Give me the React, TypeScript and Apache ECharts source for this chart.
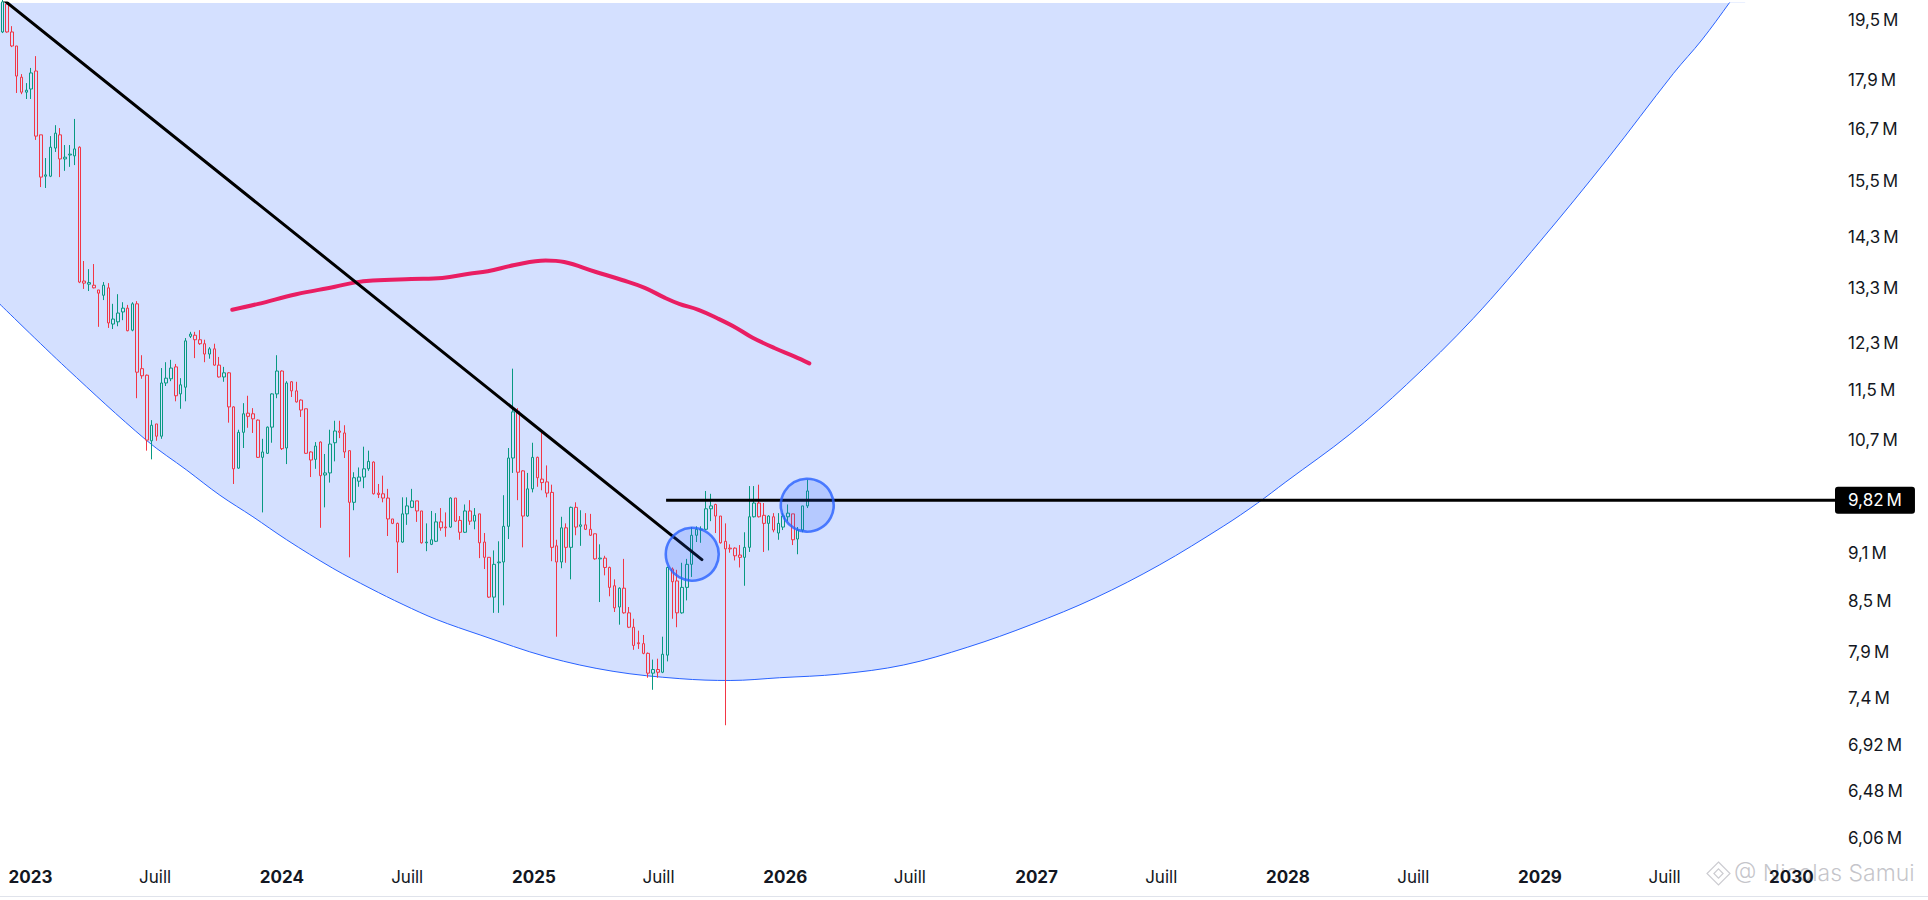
import React, { useEffect, useRef } from "react";
import * as echarts from "echarts";

const DAY = 86400000;

// ---- weekly candles (values in millions) ----
const FIRST_WEEK = "2022-11-21";
const OPEN = [
  19.17, 19.95, 19.17, 18.79, 17.97, 17.59, 17.67, 18.13, 16.55, 15.6,
  15.6, 16.24, 16.55, 15.99, 16.08, 16.06, 16.26, 13.43, 13.37, 13.35,
  13.26, 13.16, 13.3, 12.63, 12.67, 12.85, 12.92, 12.52, 13.0, 11.85,
  11.74, 10.69, 10.95, 10.76, 11.61, 11.68, 11.88, 11.43, 11.54, 12.41,
  12.43, 12.35, 12.28, 12.1, 12.19, 11.91, 11.71, 11.78, 11.22, 10.28,
  10.82, 11.12, 11.11, 11.01, 10.44, 10.5, 10.9, 11.43, 11.81, 10.58,
  11.63, 11.48, 11.33, 11.19, 10.52, 10.41, 10.67, 10.18, 10.21, 10.66,
  10.84, 10.81, 10.54, 9.79, 10.09, 10.15, 10.27, 10.37, 9.92, 9.91,
  9.85, 9.56, 9.5, 9.25, 9.63, 9.72, 9.81, 9.67, 9.24, 9.22,
  9.26, 9.52, 9.45, 9.45, 9.85, 9.54, 9.38, 9.67, 9.53, 9.63,
  9.25, 9.05, 8.55, 8.98, 8.99, 9.46, 10.43, 11.15, 10.24, 9.6,
  9.98, 10.44, 10.12, 10.08, 9.93, 9.2, 8.99, 9.44, 9.18, 9.72,
  9.46, 9.48, 9.42, 9.36, 9.03, 9.04, 8.92, 8.69, 8.43, 8.66,
  8.36, 8.19, 8.01, 8.0, 7.89, 7.67, 7.71, 7.68, 7.87, 8.9,
  8.75, 8.36, 8.67, 8.96, 9.34, 9.41, 9.42, 9.7, 9.76, 9.6,
  9.26, 9.17, 9.17, 9.08, 9.05, 9.18, 9.59, 9.78, 9.61, 9.5,
  9.59, 9.37, 9.45, 9.59, 9.63, 9.29, 9.41, 9.74,
];
const CLOSE = [
  20.01, 19.17, 18.79, 18.0, 17.59, 17.64, 18.08, 16.52, 15.58, 15.63,
  16.26, 16.59, 15.99, 16.03, 16.1, 16.22, 13.41, 13.39, 13.4, 13.3,
  13.2, 13.35, 12.65, 12.72, 12.83, 12.92, 12.51, 13.0, 11.79, 11.73,
  10.7, 10.93, 10.76, 11.61, 11.69, 11.86, 11.4, 11.58, 12.33, 12.45,
  12.35, 12.28, 12.1, 12.19, 11.91, 11.71, 11.78, 11.22, 10.27, 10.82,
  11.11, 11.07, 11.03, 10.44, 10.52, 10.9, 11.43, 11.81, 10.57, 11.61,
  11.48, 11.3, 11.17, 10.5, 10.4, 10.61, 10.17, 10.21, 10.64, 10.84,
  10.82, 10.52, 9.79, 10.14, 10.15, 10.27, 10.38, 9.91, 9.9, 9.85,
  9.56, 9.5, 9.25, 9.63, 9.74, 9.81, 9.67, 9.24, 9.25, 9.28,
  9.52, 9.44, 9.44, 9.85, 9.53, 9.38, 9.67, 9.53, 9.61, 9.24,
  9.05, 8.55, 8.96, 8.99, 9.46, 10.43, 11.14, 10.22, 9.6, 9.98,
  10.44, 10.14, 10.07, 9.92, 9.18, 8.99, 9.44, 9.18, 9.72, 9.45,
  9.48, 9.42, 9.34, 9.03, 9.04, 8.92, 8.67, 8.42, 8.66, 8.36,
  8.19, 7.98, 8.0, 7.89, 7.67, 7.71, 7.68, 7.88, 8.92, 8.74,
  8.36, 8.67, 8.96, 9.34, 9.42, 9.42, 9.7, 9.74, 9.6, 9.24,
  9.16, 9.16, 9.07, 9.05, 9.18, 9.59, 9.78, 9.59, 9.5, 9.6,
  9.41, 9.5, 9.6, 9.64, 9.28, 9.41, 9.74, 9.95,
];
const LOW = [
  19.14, 19.15, 18.76, 17.57, 17.54, 17.42, 17.42, 16.43, 15.36, 15.34,
  15.58, 16.15, 15.58, 15.72, 15.81, 15.85, 13.39, 13.28, 13.24, 13.29,
  12.58, 13.07, 12.56, 12.54, 12.59, 12.7, 12.5, 12.5, 11.36, 11.68,
  10.54, 10.41, 10.69, 10.72, 11.56, 11.64, 11.31, 11.19, 11.31, 12.38,
  12.03, 12.26, 11.96, 12.02, 11.9, 11.7, 11.63, 10.97, 10.05, 10.27,
  10.58, 10.89, 10.81, 10.43, 9.65, 10.49, 10.66, 11.36, 10.55, 10.34,
  11.38, 11.29, 11.06, 10.49, 10.15, 10.27, 9.44, 9.72, 10.07, 10.38,
  10.73, 10.43, 9.05, 9.68, 10.01, 9.99, 10.24, 9.9, 9.85, 9.79,
  9.33, 9.49, 8.85, 9.24, 9.48, 9.71, 9.52, 9.23, 9.13, 9.21,
  9.25, 9.4, 9.32, 9.44, 9.52, 9.28, 9.37, 9.48, 9.42, 9.04,
  8.9, 8.54, 8.36, 8.36, 8.45, 9.29, 10.21, 9.82, 9.18, 9.59,
  9.93, 10.01, 9.96, 9.86, 9.0, 8.08, 8.91, 8.98, 8.77, 9.34,
  9.2, 9.41, 9.33, 9.02, 8.49, 8.82, 8.56, 8.37, 8.22, 8.35,
  8.18, 7.93, 7.94, 7.88, 7.62, 7.49, 7.62, 7.67, 7.8, 8.29,
  8.19, 8.35, 8.51, 8.8, 9.25, 9.24, 9.41, 9.53, 9.37, 9.23,
  7.12, 9.11, 9.01, 8.92, 8.69, 9.12, 9.58, 9.58, 9.12, 9.14,
  9.38, 9.28, 9.41, 9.53, 9.21, 9.09, 9.38, 9.71,
];
const HIGH = [
  20.4, 20.01, 19.33, 18.79, 18.05, 17.82, 18.21, 18.52, 16.55, 16.01,
  16.52, 16.78, 16.71, 16.31, 16.31, 16.93, 16.28, 13.82, 13.66, 13.76,
  13.26, 13.41, 13.39, 13.0, 13.18, 13.03, 12.98, 13.03, 13.05, 12.08,
  11.75, 11.01, 10.95, 11.86, 11.96, 12.0, 11.93, 11.69, 12.38, 12.49,
  12.49, 12.52, 12.35, 12.22, 12.28, 12.05, 11.88, 11.79, 11.23, 10.86,
  11.28, 11.4, 11.2, 11.02, 10.72, 10.91, 11.44, 12.08, 11.82, 11.64,
  11.64, 11.63, 11.34, 11.19, 10.53, 10.67, 10.68, 10.49, 10.86, 11.0,
  11.0, 10.93, 10.54, 10.22, 10.29, 10.6, 10.54, 10.38, 10.05, 10.17,
  9.98, 9.56, 9.51, 9.86, 9.86, 9.98, 9.81, 9.67, 9.5, 9.67,
  9.64, 9.71, 9.65, 9.86, 9.85, 9.6, 9.76, 9.82, 9.71, 9.63,
  9.37, 9.05, 9.14, 9.26, 9.89, 10.58, 11.85, 11.2, 10.25, 10.21,
  10.66, 10.45, 10.81, 10.32, 10.04, 9.28, 9.59, 9.5, 9.73, 9.79,
  9.68, 9.64, 9.63, 9.36, 9.22, 9.07, 8.93, 8.77, 8.67, 9.03,
  8.43, 8.29, 8.15, 8.1, 7.9, 7.82, 7.83, 8.08, 8.93, 8.92,
  8.89, 8.98, 9.03, 9.45, 9.46, 9.46, 9.95, 9.91, 9.77, 9.6,
  9.5, 9.22, 9.18, 9.21, 9.38, 10.02, 10.02, 10.04, 9.78, 9.61,
  9.64, 9.64, 9.64, 9.76, 9.63, 9.45, 9.74, 10.11,
];

// ---- moving average (pink) ----
const MA_DATES = [
  "2023-10-21", "2023-11-28", "2024-01-22", "2024-03-18", "2024-04-15",
  "2024-05-12", "2024-07-07", "2024-08-21", "2024-09-29", "2024-10-26",
  "2024-12-04", "2025-01-18", "2025-02-14", "2025-03-31", "2025-05-09",
  "2025-06-11", "2025-07-09", "2025-07-31", "2025-08-28", "2025-09-25",
  "2025-10-22", "2025-11-14", "2025-12-17", "2026-01-14", "2026-02-05",
];
const MA_VALUES = [
  12.89, 13.0, 13.18, 13.32, 13.4, 13.44, 13.47, 13.49, 13.57, 13.62,
  13.74, 13.83, 13.8, 13.61, 13.45, 13.3, 13.12, 13.0, 12.89, 12.73,
  12.56, 12.39, 12.2, 12.06, 11.94,
];

// ---- big curved zone (lower boundary) ----
const ARC_DATES = [
  "2022-11-17", "2023-02-22", "2023-06-18", "2023-08-16", "2023-10-03",
  "2023-11-20", "2024-01-08", "2024-03-15", "2024-05-08", "2024-06-25",
  "2024-08-13", "2024-10-15", "2025-01-20", "2025-04-26", "2025-08-01",
  "2025-10-13", "2025-12-24", "2026-03-21", "2026-06-22", "2026-09-23",
  "2026-12-24", "2027-03-27", "2027-06-28", "2027-09-29", "2027-11-18",
  "2027-12-29", "2028-03-31", "2028-06-21", "2028-09-26", "2029-01-01",
  "2029-04-08", "2029-07-14", "2029-08-24", "2029-10-04", "2029-10-26",
];
const ARC_VALUES = [
  13.0, 11.86, 10.7, 10.25, 9.89, 9.59, 9.28, 8.91, 8.66, 8.46,
  8.28, 8.1, 7.85, 7.69, 7.61, 7.59, 7.62, 7.66, 7.76, 7.96,
  8.22, 8.54, 8.95, 9.46, 9.78, 10.08, 10.79, 11.58, 12.73, 14.21,
  15.97, 18.07, 18.95, 20.01, 20.65,
];

// ---- drawings ----
const TREND_DATES = ["2022-11-21", "2025-09-02"];
const TREND_VALUES = [20.1, 9.02];
const LEVEL_START = "2025-07-12";
const LEVEL = 9.82;
const CIRCLE_DATES = ["2025-08-19", "2026-02-02"];
const CIRCLE_VALUES = [9.09, 9.75];

// ---- axes ----
const X_RANGE = ["2022-11-17T16:34:00Z", "2030-03-05T11:46:00Z"];
const X_YEARS = [2023, 2024, 2025, 2026, 2027, 2028, 2029, 2030];
const Y_RANGE = [5.873, 19.98];
const Y_TICKS = [19.5, 17.9, 16.7, 15.5, 14.3, 13.3, 12.3, 11.5, 10.7, 9.9, 9.1, 8.5, 7.9, 7.4, 6.92, 6.48, 6.06];

const t = (s: string) => Date.parse(s.length === 10 ? `${s}T00:00:00Z` : s);
const ln = Math.log;
const fmtM = (v: number) => `${String(v).replace(".", ",")}\u2009M`;

echarts.graphic.registerShape(
  "wmLogo",
  echarts.graphic.extendPath(
    "M50 0 L100 50 L50 100 L0 50 Z M50 30 L70 50 L50 70 L30 50 Z",
    {}
  )
);

export default function App() {
  const ref = useRef<HTMLDivElement>(null);

  useEffect(() => {
    if (!ref.current) return;
    const chart = echarts.init(ref.current, null, { renderer: "svg" });
    const start = t(FIRST_WEEK);
    const candles = OPEN.map((o, i) => [
      start + i * 7 * DAY,
      ln(o),
      ln(CLOSE[i]),
      ln(LOW[i]),
      ln(HIGH[i]),
    ]);
    const xMin = t(X_RANGE[0]);
    const xMax = t(X_RANGE[1]);
    const xTicks = X_YEARS.flatMap((y) => [Date.UTC(y, 0, 1), Date.UTC(y, 6, 1)]).filter(
      (v) => v >= xMin && v <= xMax
    );
    const yTickLogs = Y_TICKS.map(ln);
    const font = "Inter";

    const option: any = {
      animation: false,
      backgroundColor: "#ffffff",
      textStyle: { fontFamily: font },
      grid: { left: 0, right: 93, top: 3, bottom: 40, containLabel: false },
      xAxis: {
        type: "value",
        min: xMin,
        max: xMax,
        axisLine: { show: false },
        axisTick: { show: false },
        splitLine: { show: false },
        axisLabel: {
          customValues: xTicks,
          margin: 8,
          formatter: (v: number) => {
            const d = new Date(v);
            return d.getUTCMonth() === 0 ? `{y|${d.getUTCFullYear()}}` : "{m|Juill}";
          },
          rich: {
            y: { fontFamily: font, fontSize: 17, fontWeight: 700, color: "#131722" },
            m: { fontFamily: font, fontSize: 17, fontWeight: 400, color: "#131722" },
          },
        },
      },
      yAxis: {
        type: "value",
        position: "right",
        min: ln(Y_RANGE[0]),
        max: ln(Y_RANGE[1]),
        axisLine: { show: false },
        axisTick: { show: false },
        splitLine: { show: false },
        axisLabel: {
          customValues: yTickLogs,
          margin: 13,
          fontFamily: font,
          fontSize: 17,
          color: "#131722",
          formatter: (v: number) => {
            let best = 0;
            yTickLogs.forEach((lv, i) => {
              if (Math.abs(lv - v) < Math.abs(yTickLogs[best] - v)) best = i;
            });
            return fmtM(Y_TICKS[best]);
          },
        },
      },
      series: [
        {
          type: "line",
          name: "zone",
          data: ARC_DATES.map((d, i) => [t(d), ln(ARC_VALUES[i])]),
          smooth: 0.35,
          symbol: "none",
          silent: true,
          lineStyle: { color: "#2962FF", width: 1 },
          areaStyle: { origin: "end", color: "rgba(41,98,255,0.2)", opacity: 1 },
          z: 1,
        },
        {
          type: "candlestick",
          name: "price",
          data: candles,
          encode: { x: 0, y: [1, 2, 3, 4] },
          barWidth: 3,
          itemStyle: {
            color: "rgba(0,0,0,0)",
            color0: "rgba(0,0,0,0)",
            borderColor: "#089981",
            borderColor0: "#F23645",
            borderWidth: 1,
          },
          z: 3,
        },
        {
          type: "line",
          name: "ma",
          data: MA_DATES.map((d, i) => [t(d), ln(MA_VALUES[i])]),
          smooth: 0.4,
          symbol: "none",
          lineStyle: { color: "#E91E63", width: 4, cap: "round" },
          z: 4,
        },
        {
          type: "line",
          name: "trend",
          data: TREND_DATES.map((d, i) => [t(d), ln(TREND_VALUES[i])]),
          symbol: "none",
          lineStyle: { color: "#000000", width: 3, cap: "round" },
          z: 5,
        },
        {
          type: "line",
          name: "level",
          clip: false,
          data: [
            [t(LEVEL_START), ln(LEVEL)],
            [xMax, ln(LEVEL)],
          ],
          symbol: "none",
          lineStyle: { color: "#000000", width: 3 },
          endLabel: {
            show: true,
            formatter: () => fmtM(LEVEL),
            distance: 0,
            color: "#ffffff",
            backgroundColor: "#000000",
            borderRadius: 3,
            padding: [5, 13, 5, 13],
            fontFamily: font,
            fontSize: 17,
          },
          z: 5,
        },
        {
          type: "scatter",
          name: "circles",
          data: CIRCLE_DATES.map((d, i) => [t(d), ln(CIRCLE_VALUES[i])]),
          symbol: "circle",
          symbolSize: 53,
          itemStyle: {
            color: "rgba(41,98,255,0.22)",
            borderColor: "#2962FF",
            borderWidth: 2.6,
          },
          z: 6,
        },
      ],
      graphic: [
        {
          type: "rect",
          left: 0,
          top: 896,
          z: -10,
          silent: true,
          shape: { width: 1928, height: 1 },
          style: { fill: "#E0E3EB" },
        },
        {
          type: "wmLogo",
          x: 1707,
          y: 862,
          scaleX: 0.23,
          scaleY: 0.23,
          z: -10,
          silent: true,
          style: { fill: "none", stroke: "rgba(140,140,150,0.45)", lineWidth: 5 },
        },
        {
          type: "text",
          left: 1734,
          top: 861,
          z: -10,
          silent: true,
          style: {
            text: "@ Nicolas Samui",
            fill: "rgba(140,140,150,0.5)",
            font: `300 23px ${font}`,
          },
        },
      ],
    };

    chart.setOption(option);
    return () => chart.dispose();
  }, []);

  return (
    <div
      ref={ref}
      style={{ position: "fixed", left: 0, top: 0, width: 1928, height: 900, background: "#ffffff" }}
    />
  );
}
